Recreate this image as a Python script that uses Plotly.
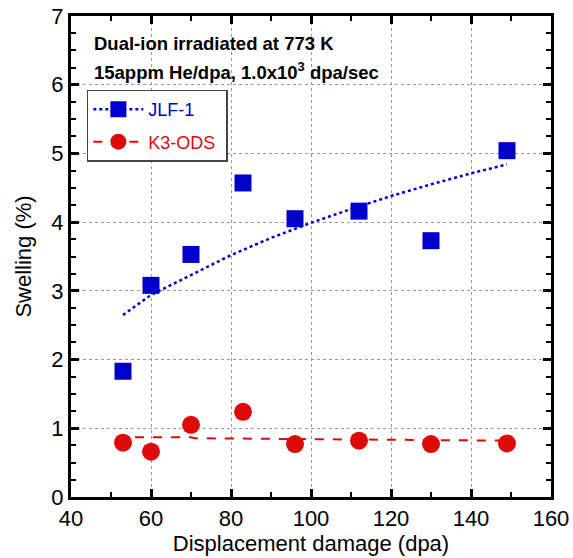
import plotly.graph_objects as go

dpa = [53, 60, 70, 83, 96, 112, 130, 149]
jlf1 = [1.83, 3.08, 3.53, 4.57, 4.05, 4.16, 3.73, 5.04]
k3ods = [0.79, 0.66, 1.05, 1.24, 0.77, 0.82, 0.77, 0.78]

jlf1_fit_x = [53, 60, 70, 80, 90, 100, 110, 120, 130, 140, 149]
jlf1_fit_y = [2.65, 2.94, 3.23, 3.52, 3.77, 3.99, 4.19, 4.38, 4.55, 4.71, 4.84]

k3_fit_x = [56, 70, 71, 149]
k3_fit_y = [0.87, 0.87, 0.855, 0.82]

BLUE = "#0000CC"
RED = "#DD0A0A"
FONT = "Liberation Sans, Arial, Helvetica, sans-serif"

fig = go.Figure()
fig.add_trace(go.Scatter(x=jlf1_fit_x, y=jlf1_fit_y, mode="lines",
                         line=dict(color=BLUE, dash="dot", width=2.5),
                         showlegend=False, hoverinfo="skip"))
fig.add_trace(go.Scatter(x=k3_fit_x, y=k3_fit_y, mode="lines",
                         line=dict(color=RED, dash="dash", width=2),
                         showlegend=False, hoverinfo="skip"))
fig.add_trace(go.Scatter(x=dpa, y=jlf1, mode="markers", showlegend=False,
                         marker=dict(symbol="square", size=17, color=BLUE)))
fig.add_trace(go.Scatter(x=dpa, y=k3ods, mode="markers", showlegend=False,
                         marker=dict(symbol="circle", size=18, color=RED)))
# legend entries (line sample + marker)
fig.add_trace(go.Scatter(x=[None], y=[None], mode="markers+lines", legendgroup="a",
                         name="<span style='color:#0000CC'>JLF-1</span>",
                         line=dict(color=BLUE, dash="dot", width=2.5),
                         marker=dict(symbol="square", size=17, color=BLUE)))
fig.add_trace(go.Scatter(x=[None], y=[None], mode="markers+lines", legendgroup="b",
                         name="<span style='color:#DD0A0A'>K3-ODS&nbsp;</span>",
                         line=dict(color=RED, dash="dash", width=2),
                         marker=dict(symbol="circle", size=18, color=RED)))

axis_common = dict(
    showline=True, linewidth=3, linecolor="black", mirror="allticks",
    ticks="inside", ticklen=8, tickwidth=3, tickcolor="black",
    showgrid=True, gridcolor="#999999", griddash="dot", gridwidth=1.3,
    zeroline=False, automargin=False,
    tickfont=dict(size=22, color="black", family=FONT),
    title_font=dict(size=22, color="black", family=FONT),
)

fig.update_xaxes(range=[40, 160], dtick=20, tick0=40,
                 title_text="Displacement damage (dpa)", title_standoff=2,
                 minor=dict(dtick=10, ticks="inside", ticklen=5, tickwidth=2, tickcolor="black", showgrid=False),
                 **axis_common)
fig.update_yaxes(range=[0, 7], dtick=1,
                 title_text="Swelling (%)", title_standoff=14,
                 minor=dict(dtick=0.25, ticks="inside", ticklen=5, tickwidth=2, tickcolor="black", showgrid=False),
                 **axis_common)

fig.add_annotation(x=0.044, y=0.942, xref="paper", yref="paper", xanchor="left", yanchor="middle",
                   text="<b>Dual-ion irradiated at 773 K</b>", showarrow=False,
                   font=dict(size=18.5, color="black", family=FONT))
fig.add_annotation(x=0.044, y=0.885, xref="paper", yref="paper", xanchor="left", yanchor="middle",
                   text="<b>15appm He/dpa, 1.0x10<sup>3</sup> dpa/sec</b>", showarrow=False,
                   font=dict(size=18.5, color="black", family=FONT))

fig.update_layout(
    width=573, height=558,
    margin=dict(l=71, r=22, t=16, b=61),
    paper_bgcolor="white", plot_bgcolor="white",
    font=dict(family=FONT, color="black"),
    legend=dict(x=0.033, y=0.847, xanchor="left", yanchor="top",
                bgcolor="white", bordercolor="#444444", borderwidth=1.5,
                font=dict(size=18, family=FONT), itemwidth=50, tracegroupgap=6),
    showlegend=True,
)

fig.write_html("out.html", config={"displayModeBar": False},
               post_script="document.body.style.margin='0';document.body.style.overflow='hidden';")
